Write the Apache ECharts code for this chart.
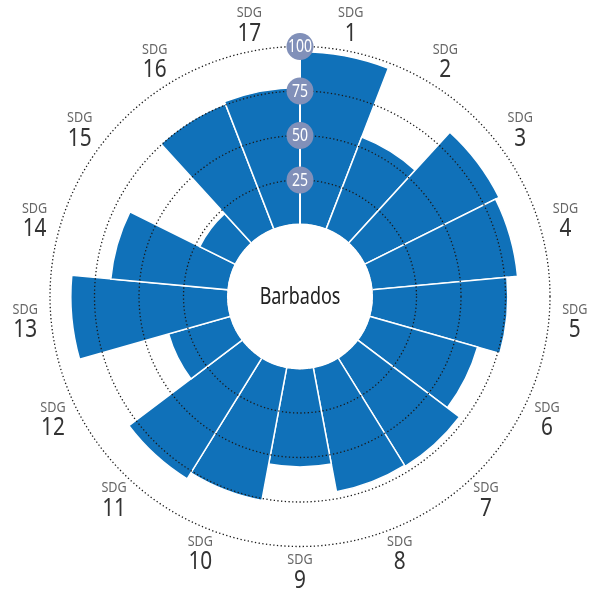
<!DOCTYPE html>
<html>
<head>
<meta charset="utf-8">
<script src="https://cdn.jsdelivr.net/npm/echarts@6/dist/echarts.min.js"></script>
<style>
html,body{margin:0;padding:0;background:#fff;}
#chart{width:598px;height:594px;}
</style>
</head>
<body>
<div id="chart"></div>
<script>
var categories = ['1','2','3','4','5','6','7','8','9','10','11','12','13','14','15','16','17'];
var values = [97, 55.6, 84.5, 82.3, 76.3, 63.3, 71.8, 71.2, 55.3, 76.1, 80, 36.3, 88.3, 66.3, 22.5, 75.6, 77];
var radiusTicks = [25, 50, 75, 100];
var labelPrefix = 'SDG';
var countryName = 'Barbados';

var LABEL_R = 114.6;           // radius value where the SDG labels sit (beyond axis max)
var center = [300, 296.5];
var FONT = "'Noto Sans', 'Open Sans', sans-serif";
var dotted = { color: '#1a1a1a', width: 1.3, type: [1.3, 2.4] };

var chart = echarts.init(document.getElementById('chart'));

chart.setOption({
  animation: false,
  backgroundColor: '#fff',
  polar: [
    { center: center, radius: [72, 250] },
    { center: center, radius: [72, 250] }
  ],
  angleAxis: [
    {
      polarIndex: 0,
      type: 'category',
      data: categories,
      startAngle: 90,
      clockwise: true,
      axisLine: { show: false },
      axisTick: { show: false },
      splitLine: { show: false },
      axisLabel: { show: false }
    },
    {
      polarIndex: 1,
      type: 'value',
      min: 0, max: 360,
      startAngle: 90,
      clockwise: true,
      show: false
    }
  ],
  radiusAxis: [
    {
      polarIndex: 0,
      type: 'value',
      min: 0, max: 100, interval: 25,
      z: 3,
      axisLine: { show: true, lineStyle: { color: '#fff', width: 2 } },
      axisTick: { show: false },
      axisLabel: { show: false },
      splitLine: { show: true, lineStyle: dotted }
    },
    {
      polarIndex: 1,
      type: 'value',
      min: 0, max: 100,
      show: false
    }
  ],
  series: [
    {
      type: 'bar',
      coordinateSystem: 'polar',
      polarIndex: 0,
      data: values,
      barCategoryGap: '0%',
      itemStyle: { color: '#1071b9', borderColor: '#fff', borderWidth: 1.5 },
      z: 2
    },
    {
      // category labels "SDG n" around the chart
      type: 'custom',
      coordinateSystem: 'polar',
      polarIndex: 0,
      silent: true,
      clip: false,
      data: categories.map(function (c, i) { return [LABEL_R, i]; }),
      renderItem: function (params, api) {
        var p = api.coord([api.value(0), api.value(1)]);
        return {
          type: 'group',
          x: p[0], y: p[1],
          children: [
            {
              type: 'text', x: 0, y: -12, scaleX: 0.9,
              style: { text: labelPrefix, fill: '#666', font: '14px ' + FONT, align: 'center', verticalAlign: 'middle' }
            },
            {
              type: 'text', x: 0, y: 8.5, scaleX: 0.85,
              style: { text: categories[params.dataIndex], fill: '#333', font: '24.5px ' + FONT, align: 'center', verticalAlign: 'middle' }
            }
          ]
        };
      },
      z: 4
    },
    {
      // tick badges on the radial axis
      type: 'custom',
      coordinateSystem: 'polar',
      polarIndex: 1,
      silent: true,
      clip: false,
      data: radiusTicks.map(function (t) { return [t, 0]; }),
      renderItem: function (params, api) {
        var p = api.coord([api.value(0), api.value(1)]);
        return {
          type: 'group',
          x: p[0], y: p[1],
          children: [
            { type: 'circle', shape: { cx: 0, cy: 0, r: 13.5 }, style: { fill: '#8190b9' } },
            {
              type: 'text', x: 0, y: 0.5, scaleX: 0.78,
              style: { text: String(radiusTicks[params.dataIndex]), fill: '#fff', font: '18px ' + FONT, align: 'center', verticalAlign: 'middle' }
            }
          ]
        };
      },
      z: 6
    }
  ],
  graphic: [
    {
      type: 'circle',
      shape: { cx: center[0], cy: center[1], r: 73 },
      style: { fill: '#fff' },
      z: 10
    },
    {
      type: 'text',
      x: center[0], y: center[1] + 1,
      scaleX: 0.78,
      style: {
        text: countryName,
        fill: '#222',
        font: "23px 'Noto Sans', sans-serif",
        textAlign: 'center',
        textVerticalAlign: 'middle'
      },
      z: 11
    }
  ]
});
</script>
</body>
</html>
